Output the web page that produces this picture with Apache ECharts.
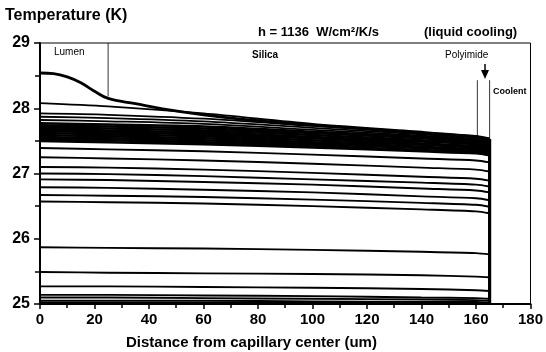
<!DOCTYPE html>
<html>
<head>
<meta charset="utf-8">
<script src="https://cdn.jsdelivr.net/npm/echarts@6/dist/echarts.min.js"></script>
<style>
  html, body { margin: 0; padding: 0; background: #fff; }
  #chart { width: 546px; height: 352px; }
</style>
</head>
<body>
<div id="chart"></div>
<script>
var dom = document.getElementById('chart');
var myChart = echarts.init(dom);

// x positions (um) where each profile was read
var xPts = [0, 25, 60, 100, 140, 160, 165];

// hottest profile, read at its own x positions
var topX = [0, 5, 10, 15, 20, 25, 35, 45, 60, 80, 100, 120, 140, 160, 165];
var topT = [28.54, 28.53, 28.48, 28.39, 28.26, 28.15, 28.07, 27.99, 27.90, 27.81, 27.74, 27.68, 27.62, 27.57, 27.53];

// upper profiles that merge into the dark band
var upperT = [
  [28.08, 28.03, 27.92, 27.76, 27.64, 27.57, 27.53],
  [27.92, 27.90, 27.84, 27.73, 27.62, 27.56, 27.52],
  [27.87, 27.85, 27.80, 27.70, 27.60, 27.55, 27.51],
  [27.82, 27.80, 27.76, 27.67, 27.58, 27.53, 27.50]
];

// dense band of profiles
var bandT = [
  [27.77, 27.75, 27.72, 27.64, 27.56, 27.51, 27.48],
  [27.74, 27.72, 27.69, 27.62, 27.54, 27.49, 27.46],
  [27.71, 27.69, 27.66, 27.59, 27.51, 27.47, 27.44],
  [27.68, 27.66, 27.63, 27.56, 27.49, 27.45, 27.42],
  [27.65, 27.63, 27.60, 27.54, 27.46, 27.42, 27.40],
  [27.62, 27.60, 27.57, 27.51, 27.44, 27.40, 27.38],
  [27.59, 27.57, 27.54, 27.48, 27.41, 27.37, 27.35],
  [27.56, 27.54, 27.51, 27.45, 27.39, 27.35, 27.33],
  [27.53, 27.51, 27.48, 27.42, 27.36, 27.33, 27.31],
  [27.50, 27.48, 27.45, 27.40, 27.34, 27.31, 27.28]
];

// separate profiles below the band
var lowerT = [
  [27.39, 27.37, 27.34, 27.29, 27.23, 27.20, 27.17],
  [27.25, 27.23, 27.20, 27.15, 27.09, 27.06, 27.03],
  [27.10, 27.09, 27.06, 27.01, 26.95, 26.92, 26.89],
  [27.00, 26.99, 26.96, 26.91, 26.86, 26.83, 26.80],
  [26.91, 26.90, 26.87, 26.83, 26.77, 26.74, 26.71],
  [26.79, 26.78, 26.75, 26.71, 26.65, 26.62, 26.59],
  [26.67, 26.66, 26.64, 26.60, 26.55, 26.52, 26.49],
  [26.57, 26.56, 26.54, 26.50, 26.45, 26.42, 26.39],
  [25.87, 25.86, 25.85, 25.83, 25.80, 25.78, 25.76],
  [25.49, 25.48, 25.47, 25.46, 25.44, 25.42, 25.41],
  [25.27, 25.27, 25.26, 25.25, 25.23, 25.21, 25.20],
  [25.14, 25.14, 25.13, 25.12, 25.10, 25.09, 25.08],
  [25.10, 25.10, 25.09, 25.08, 25.07, 25.06, 25.05],
  [25.05, 25.05, 25.05, 25.04, 25.03, 25.03, 25.02],
  [25.02, 25.02, 25.02, 25.02, 25.01, 25.01, 25.01]
];

// boundary lines: [x, Tfrom, Tto]
var lumenEdge = [25, 29, 28.18];
var polyEdges = [[160.5, 28.43, 27.56], [165, 28.43, 27.53]];
var coolantWall = [165, 25, 27.53];

var xTicks = [0, 20, 40, 60, 80, 100, 120, 140, 160, 180];
var yTicks = [25, 26, 27, 28, 29];

var series = [];
function addLine(data, width, smooth) {
  series.push({
    type: 'line',
    data: data,
    showSymbol: false,
    silent: true,
    smooth: smooth,
    lineStyle: { color: '#000', width: width },
    z: 3
  });
}

addLine(topX.map(function (x, i) { return [x, topT[i]]; }), 2.8, 0.4);
upperT.forEach(function (c) {
  addLine(xPts.map(function (x, i) { return [x, c[i]]; }), 1.8, 0.3);
});
bandT.forEach(function (c) {
  addLine(xPts.map(function (x, i) { return [x, c[i]]; }), 2.6, 0.3);
});
lowerT.forEach(function (c) {
  addLine(xPts.map(function (x, i) { return [x, c[i]]; }), 1.9, 0.3);
});
addLine([[lumenEdge[0], lumenEdge[1]], [lumenEdge[0], lumenEdge[2]]], 0.8, false);
polyEdges.forEach(function (p) {
  addLine([[p[0], p[1]], [p[0], p[2]]], 0.8, false);
});
addLine([[coolantWall[0], coolantWall[1]], [coolantWall[0], coolantWall[2]]], 3.2, false);

var labelFont = { color: '#000', fontFamily: 'Liberation Sans', fontWeight: 'bold' };

var option = {
  backgroundColor: '#fff',
  animation: false,
  grid: {
    left: 40, right: 13, top: 43, bottom: 48,
    show: true, borderColor: '#000', borderWidth: 1
  },
  xAxis: {
    type: 'value',
    min: xTicks[0], max: xTicks[xTicks.length - 1], interval: 20,
    axisLine: { lineStyle: { color: '#000', width: 2 } },
    axisTick: { show: true, length: 5, lineStyle: { color: '#000', width: 1.5 } },
    minorTick: { show: true, splitNumber: 2, length: 4, lineStyle: { color: '#000', width: 1.5 } },
    splitLine: { show: false },
    axisLabel: Object.assign({ fontSize: 15, margin: 8 }, labelFont)
  },
  yAxis: {
    type: 'value',
    min: yTicks[0], max: yTicks[yTicks.length - 1], interval: 1,
    axisLine: { lineStyle: { color: '#000', width: 2 } },
    axisTick: { show: true, length: 6, lineStyle: { color: '#000', width: 1.5 } },
    minorTick: { show: true, splitNumber: 2, length: 5, lineStyle: { color: '#000', width: 1.5 } },
    splitLine: { show: false },
    axisLabel: Object.assign({ fontSize: 16, margin: 10 }, labelFont)
  },
  graphic: [
    { type: 'text', left: 5, top: 8, style: Object.assign({ text: 'Temperature (K)', fontSize: 16 }, labelFont) },
    { type: 'text', left: 258, top: 26, style: Object.assign({ text: 'h = 1136  W/cm²/K/s', fontSize: 13 }, labelFont) },
    { type: 'text', left: 424, top: 26, style: Object.assign({ text: '(liquid cooling)', fontSize: 13 }, labelFont) },
    { type: 'text', left: 126, top: 335, style: Object.assign({ text: 'Distance from capillary center (um)', fontSize: 15 }, labelFont) },
    { type: 'text', left: 54, top: 47, style: { text: 'Lumen', fontSize: 10, fill: '#000', fontFamily: 'Liberation Sans' } },
    { type: 'text', left: 252, top: 50, style: { text: 'Silica', fontSize: 10, fill: '#000', fontFamily: 'Liberation Sans', fontWeight: 'bold' } },
    { type: 'text', left: 445, top: 50, style: { text: 'Polyimide', fontSize: 10, fill: '#000', fontFamily: 'Liberation Sans' } },
    { type: 'text', left: 493, top: 87, style: { text: 'Coolent', fontSize: 9, fill: '#000', fontFamily: 'Liberation Sans', fontWeight: 'bold' } },
    { type: 'line', shape: { x1: 485, y1: 64, x2: 485, y2: 72 }, style: { stroke: '#000', lineWidth: 1.5 } },
    { type: 'polygon', shape: { points: [[481, 70], [489, 70], [485, 79]] }, style: { fill: '#000' } }
  ],
  series: series
};
myChart.setOption(option);
</script>
</body>
</html>
